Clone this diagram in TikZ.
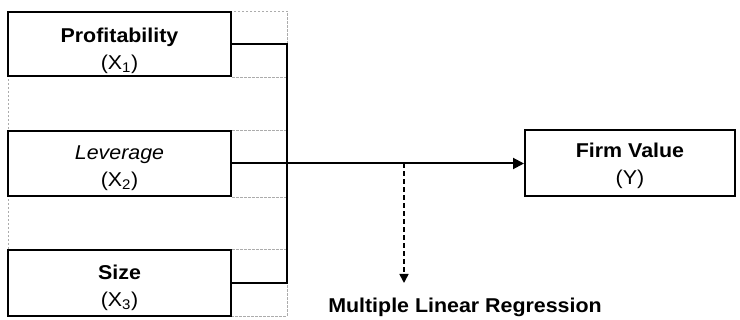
\documentclass[tikz,border=0pt]{standalone}
\usepackage{fontspec}
\setmainfont[FakeStretch=1.07]{Liberation Sans}
\usetikzlibrary{arrows.meta}
% first-line strut that lowers a two-line label inside its box
\newcommand{\dropby}[1]{\rule{0pt}{#1}}
\tikzset{
  varbox/.style={draw, line width=2pt, fill=white, minimum width=223pt, align=center, inner sep=0pt},
  guide/.style={draw=gray!65, line width=0.7pt, dash pattern=on 2.5pt off 1.5pt},
  link/.style={line width=2pt},
  title/.style={font=\fontsize{20}{27}\selectfont}
}
\begin{document}
\begin{tikzpicture}[x=1pt,y=-1pt]
\useasboundingbox (0,0) rectangle (740,320);
% light dashed frame behind the independent variables
\draw[guide] (8,11) rectangle (287,316);
% independent variables
\node[varbox, minimum height=64pt, title] (p) at (119.5,44) {\dropby{28pt}\textbf{Profitability}\\(X\textsubscript{1})};
\node[varbox, minimum height=65pt, title] (l) at (119.5,163.5) {\dropby{22.5pt}\textit{Leverage}\\(X\textsubscript{2})};
\node[varbox, minimum height=66pt, title] (s) at (119.5,283) {\dropby{24.5pt}\textbf{Size}\\(X\textsubscript{3})};
% dependent variable
\node[varbox, minimum width=210pt, minimum height=66pt, title] (f) at (630,163) {\dropby{19.5pt}\textbf{Firm Value}\\(Y)};
% bracket joining the variables
\coordinate (jt) at (287,44);
\coordinate (jb) at (287,283);
\draw[guide] (p.south east) -- (p.south east -| jt);
\draw[guide] (l.north east) -- (l.north east -| jt);
\draw[guide] (l.south east) -- (l.south east -| jt);
\draw[guide] (s.north east) -- (s.north east -| jt);
\draw[link] (p.east) -- (jt) -- (jb) -- (s.east);
\draw[link, -{Triangle[length=11pt,width=11pt]}] (l.east) -- (l.east -| f.west);
% regression method
\coordinate (rt) at (404,163.5);
\coordinate (rb) at (404,283);
\draw[link, line width=1.6pt, dash pattern=on 5pt off 3pt, -{Triangle[length=9pt,width=9pt]}] (rt) -- (rb);
\node[font=\fontsize{20}{24}\selectfont\bfseries] (mlr) at (465,307) {Multiple Linear Regression};
\end{tikzpicture}
\end{document}
